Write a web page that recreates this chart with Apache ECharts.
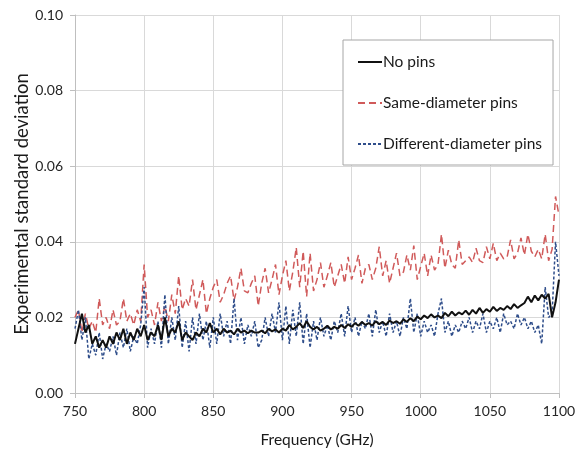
<html>
<head>
    <meta charset="utf-8">
    <title>Chart</title>
    <script src="https://cdn.jsdelivr.net/npm/echarts@6/dist/echarts.min.js"></script>
    <style>
        html, body { margin: 0; padding: 0; background: #fff; }
        #main { width: 587px; height: 466px; }
    </style>
</head>
<body>
    <div id="main"></div>
    <script type="text/javascript">
        // frequency axis: first sample and spacing (GHz)
        var freqStart = 750;
        var freqStep = 2.5;

        var xTicks = [750, 800, 850, 900, 950, 1000, 1050, 1100];
        var yTicks = [0.00, 0.02, 0.04, 0.06, 0.08, 0.10];

        var noPins = [
            0.013, 0.017, 0.021, 0.016, 0.018, 0.013, 0.015, 0.012, 0.014, 0.012,
            0.015, 0.013, 0.016, 0.014, 0.017, 0.013, 0.016, 0.014, 0.017, 0.015,
            0.018, 0.014, 0.016, 0.015, 0.018, 0.014, 0.020, 0.015, 0.017, 0.016,
            0.019, 0.014, 0.016, 0.015, 0.014, 0.016, 0.015, 0.017, 0.016, 0.0185,
            0.016, 0.017, 0.0155, 0.017, 0.016, 0.0165, 0.0155, 0.017, 0.016, 0.0165,
            0.0158, 0.0165, 0.016, 0.016, 0.0165, 0.0158, 0.017, 0.0163, 0.0168, 0.016,
            0.017, 0.0165, 0.018, 0.0168, 0.0175, 0.0185, 0.0172, 0.019, 0.0175, 0.0168,
            0.0175, 0.0165, 0.017, 0.0178, 0.0168, 0.0175, 0.017, 0.018, 0.0172, 0.0182,
            0.0175, 0.0185, 0.0178, 0.0188, 0.018, 0.0185, 0.0178, 0.019, 0.0182, 0.0188,
            0.018, 0.0192, 0.0185, 0.019, 0.0183, 0.0195, 0.0188, 0.0198, 0.019, 0.0202,
            0.0195, 0.0205, 0.0198, 0.0208, 0.020, 0.0205, 0.0198, 0.0212, 0.0203, 0.0215,
            0.0205, 0.0213, 0.0208, 0.0218, 0.0207, 0.022, 0.021, 0.0225, 0.0212, 0.0222,
            0.0215, 0.0228, 0.0217, 0.0225, 0.022, 0.023, 0.0222, 0.0235, 0.0225, 0.0232,
            0.0238, 0.0255, 0.024, 0.0258, 0.0245, 0.026, 0.025, 0.0262, 0.020, 0.024,
            0.030
        ];

        var samePins = [
            0.020, 0.022, 0.016, 0.021, 0.017, 0.019, 0.016, 0.025, 0.018, 0.020,
            0.017, 0.022, 0.018, 0.019, 0.025, 0.019, 0.021, 0.018, 0.022, 0.019,
            0.034, 0.020, 0.022, 0.018, 0.024, 0.019, 0.023, 0.019, 0.026, 0.021,
            0.031, 0.022, 0.025, 0.023, 0.030, 0.022, 0.026, 0.030, 0.021, 0.025,
            0.028, 0.030, 0.024, 0.026, 0.029, 0.031, 0.0245, 0.028, 0.033, 0.027,
            0.0265, 0.029, 0.031, 0.023, 0.029, 0.033, 0.0265, 0.030, 0.034, 0.026,
            0.031, 0.035, 0.027, 0.032, 0.0385, 0.028, 0.0375, 0.0255, 0.037, 0.027,
            0.030, 0.0345, 0.028, 0.031, 0.0345, 0.028, 0.031, 0.034, 0.029, 0.036,
            0.030, 0.033, 0.0365, 0.029, 0.033, 0.034, 0.030, 0.033, 0.0387, 0.031,
            0.035, 0.029, 0.033, 0.037, 0.031, 0.032, 0.0365, 0.0325, 0.039, 0.030,
            0.0335, 0.037, 0.031, 0.0365, 0.0325, 0.034, 0.042, 0.033, 0.0378, 0.034,
            0.033, 0.0405, 0.034, 0.035, 0.036, 0.0345, 0.0383, 0.035, 0.0345, 0.0387,
            0.0355, 0.0396, 0.035, 0.037, 0.0355, 0.036, 0.0405, 0.0355, 0.037, 0.041,
            0.0365, 0.042, 0.0375, 0.036, 0.038, 0.0355, 0.042, 0.035, 0.038, 0.052,
            0.047
        ];

        var diffPins = [
            0.017, 0.022, 0.014, 0.020, 0.009, 0.013, 0.010, 0.016, 0.009, 0.013,
            0.011, 0.015, 0.010, 0.016, 0.012, 0.017, 0.011, 0.015, 0.013, 0.018,
            0.028, 0.012, 0.017, 0.013, 0.019, 0.012, 0.026, 0.013, 0.020, 0.014,
            0.023, 0.012, 0.019, 0.011, 0.020, 0.013, 0.021, 0.014, 0.019, 0.012,
            0.020, 0.013, 0.021, 0.015, 0.019, 0.013, 0.025, 0.014, 0.020, 0.013,
            0.018, 0.015, 0.019, 0.012, 0.014, 0.020, 0.015, 0.021, 0.016, 0.024,
            0.014, 0.023, 0.013, 0.022, 0.015, 0.024, 0.013, 0.021, 0.012, 0.019,
            0.014, 0.020, 0.015, 0.018, 0.014, 0.019, 0.016, 0.021, 0.015, 0.023,
            0.016, 0.020, 0.015, 0.019, 0.017, 0.021, 0.015, 0.022, 0.016, 0.019,
            0.015, 0.021, 0.016, 0.019, 0.015, 0.020, 0.017, 0.025, 0.016, 0.021,
            0.015, 0.019, 0.016, 0.018, 0.015, 0.021, 0.025, 0.016, 0.019, 0.015,
            0.018, 0.016, 0.019, 0.017, 0.020, 0.016, 0.019, 0.017, 0.021, 0.016,
            0.019, 0.017, 0.020, 0.016, 0.021, 0.018, 0.019, 0.017, 0.021, 0.018,
            0.020, 0.017, 0.019, 0.016, 0.018, 0.013, 0.028, 0.020, 0.021, 0.040,
            0.031
        ];

        var seriesNames = ['No pins', 'Same-diameter pins', 'Different-diameter pins'];

        function pairs(values) {
            var out = [];
            for (var i = 0; i < values.length; i++) {
                out.push([freqStart + i * freqStep, values[i]]);
            }
            return out;
        }

        var font = 'Lato, "Open Sans", sans-serif';
        var myChart = echarts.init(document.getElementById('main'));

        var option = {
            animation: false,
            grid: {
                left: 75,
                right: 28,
                top: 15,
                bottom: 73,
                outerBoundsMode: 'none'
            },
            legend: {
                orient: 'vertical',
                left: 343,
                top: 40,
                padding: [14, 11, 13, 14],
                itemWidth: 24,
                itemHeight: 14,
                itemGap: 25,
                backgroundColor: '#fff',
                borderColor: '#a6a6a6',
                borderWidth: 1,
                itemStyle: { opacity: 0 },
                textStyle: { fontFamily: font, fontSize: 15.5, color: '#1a1a1a', padding: [0, 0, 0, -4] },
                data: seriesNames
            },
            xAxis: {
                type: 'value',
                min: xTicks[0],
                max: xTicks[xTicks.length - 1],
                interval: 50,
                name: 'Frequency (GHz)',
                nameLocation: 'middle',
                nameGap: 39,
                nameMoveOverlap: false,
                nameTextStyle: { fontFamily: font, fontSize: 15.5, color: '#1a1a1a' },
                axisLine: { lineStyle: { color: '#bfbfbf' } },
                axisTick: { show: true, length: 5, lineStyle: { color: '#bfbfbf' } },
                axisLabel: {
                    fontFamily: font, fontSize: 14, color: '#262626', margin: 11,
                    formatter: function (v) { return String(v); }
                },
                splitLine: { show: true, lineStyle: { color: '#d9d9d9' } }
            },
            yAxis: {
                type: 'value',
                min: yTicks[0],
                max: yTicks[yTicks.length - 1],
                interval: 0.02,
                name: 'Experimental standard deviation',
                nameLocation: 'middle',
                nameGap: 43,
                nameMoveOverlap: false,
                nameTextStyle: { fontFamily: font, fontSize: 18.5, color: '#1a1a1a' },
                axisLine: { show: true, lineStyle: { color: '#bfbfbf' } },
                axisTick: { show: true, length: 5, lineStyle: { color: '#bfbfbf' } },
                axisLabel: {
                    fontFamily: font, fontSize: 14, color: '#262626', margin: 12,
                    formatter: function (v) { return v.toFixed(2); }
                },
                splitLine: { show: true, lineStyle: { color: '#d9d9d9' } }
            },
            series: [
                {
                    name: seriesNames[0],
                    type: 'line',
                    symbol: 'none',
                    z: 3,
                    data: pairs(noPins),
                    lineStyle: { color: '#111', width: 2 },
                    itemStyle: { color: '#111' }
                },
                {
                    name: seriesNames[1],
                    type: 'line',
                    symbol: 'none',
                    z: 2,
                    data: pairs(samePins),
                    lineStyle: { color: '#d05a5a', width: 1.5, type: [7, 4] },
                    itemStyle: { color: '#d05a5a' }
                },
                {
                    name: seriesNames[2],
                    type: 'line',
                    symbol: 'none',
                    z: 2,
                    data: pairs(diffPins),
                    lineStyle: { color: '#2e4d8a', width: 1.5, type: [3, 2] },
                    itemStyle: { color: '#2e4d8a' }
                }
            ]
        };
        myChart.setOption(option);
    </script>
</body>
</html>
